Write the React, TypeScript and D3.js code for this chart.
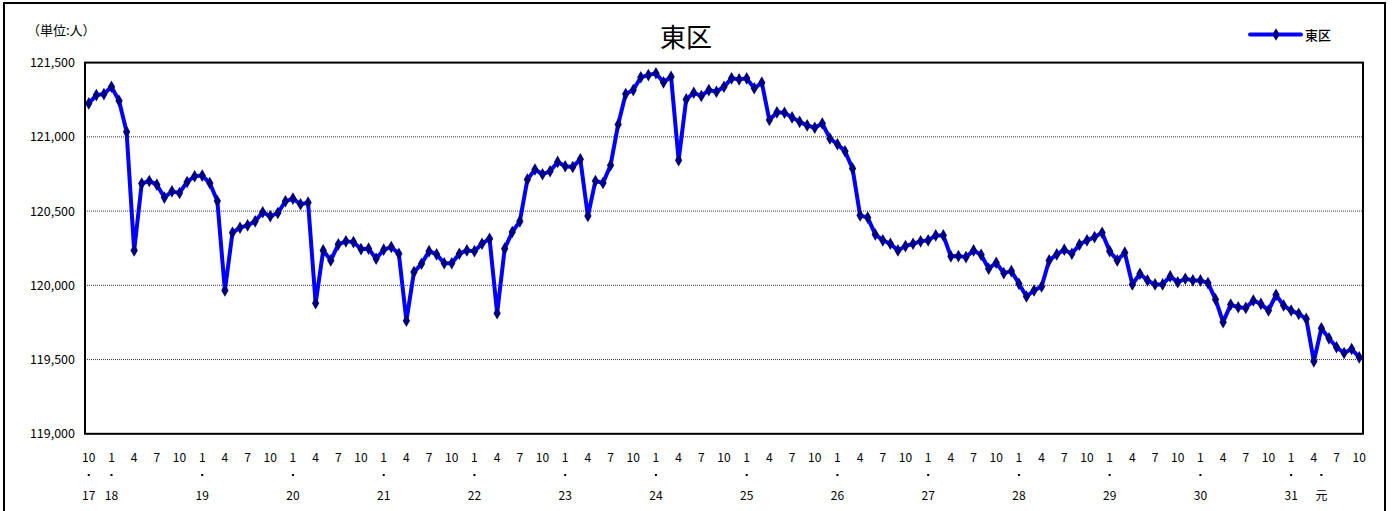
import React from 'react'
import * as d3 from 'd3'

// 東区 人口（月別、平成17年10月〜令和元年10月）
const values: number[] = [
  121225, 121281, 121288, 121337, 121243, 121034, 120235, 120685, 120703, 120678,
  120591, 120633, 120622, 120696, 120735, 120739, 120689, 120568, 119965, 120354,
  120388, 120404, 120431, 120492, 120465, 120487, 120566, 120584, 120546, 120557,
  119879, 120235, 120168, 120276, 120296, 120291, 120244, 120247, 120179, 120240,
  120258, 120213, 119762, 120089, 120145, 120230, 120208, 120149, 120149, 120213,
  120235, 120230, 120280, 120314, 119812, 120247, 120359, 120431, 120712, 120780,
  120748, 120768, 120831, 120802, 120797, 120849, 120467, 120703, 120689, 120809,
  121083, 121288, 121315, 121401, 121416, 121428, 121367, 121405, 120843, 121252,
  121297, 121275, 121315, 121304, 121337, 121394, 121387, 121394, 121327, 121365,
  121113, 121165, 121162, 121131, 121101, 121077, 121061, 121090, 120989, 120950,
  120903, 120786, 120471, 120456, 120343, 120303, 120280, 120235, 120264, 120280,
  120296, 120303, 120336, 120336, 120195, 120197, 120190, 120235, 120206, 120112,
  120152, 120082, 120096, 120010, 119925, 119965, 119992, 120168, 120208, 120240,
  120213, 120274, 120303, 120325, 120354, 120230, 120168, 120220, 120006, 120078,
  120033, 120006, 120006, 120060, 120021, 120044, 120033, 120033, 120015, 119905,
  119752, 119870, 119852, 119848, 119898, 119875, 119830, 119936, 119864, 119830,
  119808, 119774, 119488, 119711, 119643, 119583, 119544, 119571, 119515,
]

const yTicks = [119000, 119500, 120000, 120500, 121000, 121500]
const gridValues = [119500, 120000, 120500, 121000]

// month shown every 3 categories (first category = October)
const startMonth = 10
const monthStep = 3

// era year labels and the category they sit under
const yearTicks = [
  { i: 0, label: '17' }, { i: 3, label: '18' }, { i: 15, label: '19' },
  { i: 27, label: '20' }, { i: 39, label: '21' }, { i: 51, label: '22' },
  { i: 63, label: '23' }, { i: 75, label: '24' }, { i: 87, label: '25' },
  { i: 99, label: '26' }, { i: 111, label: '27' }, { i: 123, label: '28' },
  { i: 135, label: '29' }, { i: 147, label: '30' }, { i: 159, label: '31' },
  { i: 163, label: '元' },
]

const seriesName = '東区'
const title = '東区'
const unitLabel = '（単位:人）'

const W = 1395
const H = 511
const plot = { left: 85, right: 1363, top: 62.6, bottom: 433.8 }
const font = '"Noto Sans CJK JP", "Noto Sans", sans-serif'

export default function App() {
  const idx = d3.range(values.length)
  const x = d3.scaleBand<number>().domain(idx).range([plot.left, plot.right]).padding(0)
  const cx = (i: number) => (x(i) as number) + x.bandwidth() / 2
  const y = d3.scaleLinear().domain([119000, 121500]).range([plot.bottom, plot.top])

  const line = d3.line<number>().x((_, i) => cx(i)).y(d => y(d))
  const diamond = d3.symbol().type(d3.symbolDiamond).size(46)()
  const fmt = d3.format(',')

  const monthTicks = idx.filter(i => i % monthStep === 0)

  return (
    <svg width={W} height={H} style={{ position: 'fixed', left: 0, top: 0, background: '#fff' }}
      fontFamily={font}>
      <rect x={0} y={0} width={W} height={H} fill="#fff" />
      <rect x={4} y={3} width={1381} height={H + 10} fill="none" stroke="#000" strokeWidth={2} />

      <text x={686} y={47} textAnchor="middle" fontSize={26} fill="#000">{title}</text>
      <text x={27} y={35} fontSize={13} fill="#000">{unitLabel}</text>

      {/* legend */}
      <g transform="translate(1250,34.5)">
        <line x1={0} x2={51} y1={0} y2={0} stroke="#0000ff" strokeWidth={4} strokeLinecap="round" />
        <path d={diamond as string} transform="translate(26,0)" fill="#000080" />
        <text x={55} y={5} fontSize={13} fontWeight={500} fill="#000">{seriesName}</text>
      </g>

      {/* grid */}
      {gridValues.map(v => (
        <line key={v} x1={plot.left} x2={plot.right} y1={y(v)} y2={y(v)}
          stroke="#333" strokeWidth={1} strokeDasharray="1,1" />
      ))}

      {/* y labels */}
      {yTicks.map(v => (
        <text key={v} x={75} y={y(v) + 4.5} textAnchor="end" fontSize={12.5} fill="#000">{fmt(v)}</text>
      ))}

      {/* series */}
      <path d={line(values) as string} fill="none" stroke="#0000ff" strokeWidth={4}
        strokeLinejoin="round" />
      {values.map((v, i) => (
        <path key={i} d={diamond as string} transform={`translate(${cx(i)},${y(v)})`} fill="#000080" />
      ))}

      <rect x={plot.left} y={plot.top} width={plot.right - plot.left} height={plot.bottom - plot.top}
        fill="none" stroke="#000" strokeWidth={2} />

      {/* x labels */}
      {monthTicks.map(i => (
        <text key={i} x={cx(i)} y={462} textAnchor="middle" fontSize={12} fill="#000">
          {((startMonth - 1 + i) % 12) + 1}
        </text>
      ))}
      {yearTicks.map(t => (
        <g key={t.label}>
          <rect x={cx(t.i) - 1} y={474} width={2} height={2} fill="#000" />
          <text x={cx(t.i)} y={500} textAnchor="middle" fontSize={12} fill="#000">{t.label}</text>
        </g>
      ))}
    </svg>
  )
}
